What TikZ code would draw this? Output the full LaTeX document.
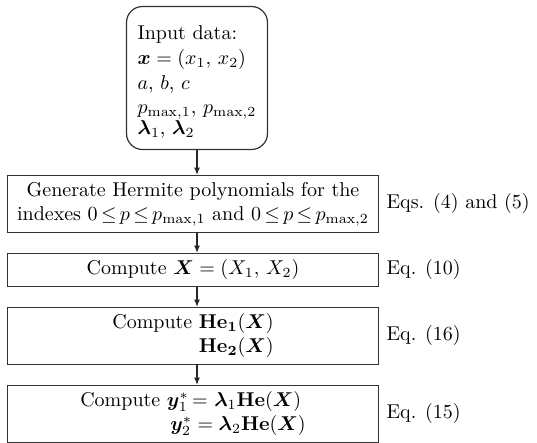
\documentclass[tikz,border=0pt]{standalone}
\usepackage{amsmath,bm}
\usetikzlibrary{arrows.meta}
\begin{document}
\begin{tikzpicture}[x=0.5pt,y=-0.5pt,line width=0.6pt,
  every node/.style={inner sep=0pt},
  stepbox/.style={draw=black!80,minimum width=185.5pt,align=center},
  eqlabel/.style={anchor=west},
  arr/.style={-{Latex[length=3.6pt,width=3pt]},draw=black!85}]
  \useasboundingbox (0,0) rectangle (537,443);
  \node[draw=black!80,rounded corners=8pt,minimum width=70.5pt,minimum height=71.5pt] (input) at (197,78)
    {\begin{tabular}{@{}l@{}}\rule{0pt}{13pt}Input data:\\[0.5pt] $\bm{x} = (x_1,\, x_2)$\\[0.5pt] $a$, $b$, $c$\\ $p_{\max,1}$, $p_{\max,2}$\\[-1.5pt] $\bm{\lambda}_1$, $\bm{\lambda}_2$\end{tabular}};
  \node[stepbox,minimum height=28.5pt] (gen) at (193,204)
    {Generate Hermite polynomials for the\\ \thickmuskip=3mu indexes $0\le p\le p_{\max,1}$ and $0\le p\le p_{\max,2}$};
  \node[stepbox,minimum height=16.5pt] (compX) at (193,270) {Compute $\bm{X} = (X_1,\, X_2)$};
  \node[stepbox,minimum height=28.5pt] (compHe) at (193,336)
    {\begin{tabular}{@{}l@{ }l@{}}Compute & $\mathbf{He_1}(\bm{X})$\\ & $\mathbf{He_2}(\bm{X})$\end{tabular}};
  \node[stepbox,minimum height=28.5pt] (compY) at (193,414)
    {\begin{tabular}{@{}l@{ }l@{}}Compute & $\bm{y}_1^*$\,= $\bm{\lambda}_1\mathbf{He}(\bm{X})$\\ & \,$\bm{y}_2^* = \bm{\lambda}_2\mathbf{He}(\bm{X})$\end{tabular}};
  % equation references
  \node[eqlabel] (eqgen) at (386,204) {Eqs. (4) and (5)};
  \node[eqlabel] (eqX) at (386,270) {Eq. (10)};
  \node[eqlabel] (eqHe) at (386,336) {Eq. (16)};
  \node[eqlabel] (eqY) at (386,414) {Eq. (15)};
  % arrows
  \draw[arr] (input.south) -- (input.south |- gen.north);
  \draw[arr] (input.south |- gen.south) -- (input.south |- compX.north);
  \draw[arr] (input.south |- compX.south) -- (input.south |- compHe.north);
  \draw[arr] (input.south |- compHe.south) -- (input.south |- compY.north);
\end{tikzpicture}
\end{document}
